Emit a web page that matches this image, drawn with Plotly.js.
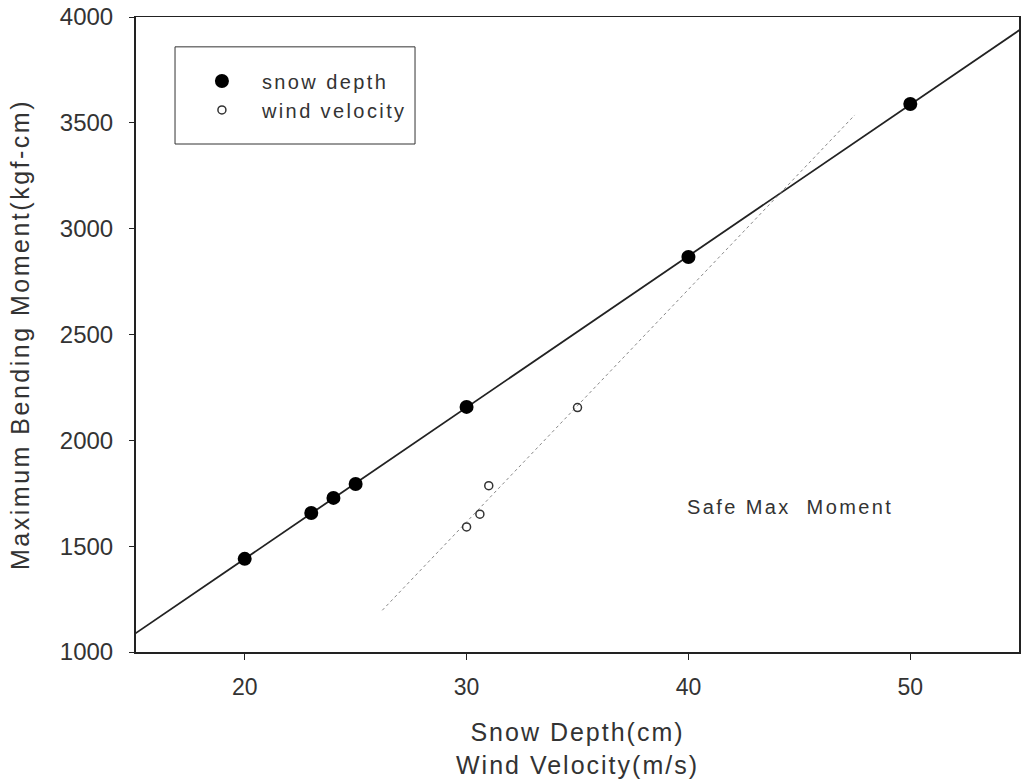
<!DOCTYPE html>
<html>
<head>
<meta charset="utf-8">
<script src="https://cdn.plot.ly/plotly-3.0.1.min.js"></script>
<style>
html,body{margin:0;padding:0;background:#fff;}
#chart{width:1021px;height:779px;}
text.xtitle { letter-spacing: 2px; }
text.ytitle { letter-spacing: 2.5px; }
text.legendtext, text.annotation-text { letter-spacing: 2.4px; }
</style>
</head>
<body>
<div id="chart"></div>
<script>
// Data
const snowDepth = [20, 23, 24, 25, 30, 40, 50];
const snowMoment = [1440, 1657, 1728, 1794, 2158, 2866, 3589];
const windVelocity = [30, 30.6, 31, 35];
const windMoment = [1591, 1651, 1786, 2155];
const snowFitRange = [15, 55];
const windFitRange = [26.2, 47.5];
const xTicks = [20, 30, 40, 50];
const yTicks = [1000, 1500, 2000, 2500, 3000, 3500, 4000];

function linfit(xs, ys) {
  const n = xs.length;
  const mx = xs.reduce((a, b) => a + b, 0) / n;
  const my = ys.reduce((a, b) => a + b, 0) / n;
  let sxx = 0, sxy = 0;
  for (let i = 0; i < n; i++) { sxx += (xs[i] - mx) ** 2; sxy += (xs[i] - mx) * (ys[i] - my); }
  const m = sxy / sxx;
  return { m: m, b: my - m * mx };
}
const sf = linfit(snowDepth, snowMoment);
const wf = linfit(windVelocity, windMoment);

const traces = [
  {
    x: snowFitRange, y: snowFitRange.map(v => sf.m * v + sf.b),
    mode: 'lines', line: { color: '#222', width: 1.8 }, showlegend: false, hoverinfo: 'skip'
  },
  {
    x: windFitRange, y: windFitRange.map(v => wf.m * v + wf.b),
    mode: 'lines', line: { color: '#888', width: 1, dash: 'dot' }, showlegend: false, hoverinfo: 'skip'
  },
  {
    x: snowDepth, y: snowMoment, name: 'snow depth', mode: 'markers',
    marker: { symbol: 'circle', size: 14, color: '#000' }
  },
  {
    x: windVelocity, y: windMoment, name: 'wind velocity', mode: 'markers',
    marker: { symbol: 'circle-open', size: 8, color: '#333', line: { width: 1.5, color: '#333' } }
  }
];

const fam = 'Liberation Sans, Arial, sans-serif';
const txt = '#333';

const layout = {
  width: 1021, height: 779,
  margin: { l: 136, r: 2, t: 17, b: 127 },
  paper_bgcolor: '#fff', plot_bgcolor: '#fff',
  font: { family: fam, color: txt },
  showlegend: true,
  legend: {
    x: 0.052, y: 0.93, xanchor: 'left', yanchor: 'top',
    borderwidth: 0, bgcolor: 'rgba(0,0,0,0)',
    font: { family: fam, size: 20, color: txt },
    itemwidth: 70
  },
  shapes: [
    { type: 'rect', xref: 'paper', yref: 'paper', x0: 0.0442, x1: 0.316, y0: 0.800, y1: 0.953,
      line: { color: '#333', width: 1 }, fillcolor: 'rgba(0,0,0,0)' }
  ],
  xaxis: {
    range: [15.1, 54.9],
    tickvals: xTicks, ticktext: xTicks.map(String),
    ticks: 'outside', ticklen: 6, tickcolor: '#222', tickwidth: 1,
    ticklabelstandoff: 8,
    showline: true, linecolor: '#222', linewidth: 1.5, mirror: true,
    showgrid: false, zeroline: false,
    tickfont: { size: 23, color: txt, family: fam },
    title: { text: 'Snow Depth(cm)<br>Wind Velocity(m/s)', font: { size: 25, color: txt, family: fam }, standoff: 32 }
  },
  yaxis: {
    range: [1000, 4000],
    tickvals: yTicks, ticktext: yTicks.map(String),
    ticks: 'outside', ticklen: 5, tickcolor: '#222', tickwidth: 1,
    ticklabelstandoff: 11,
    showline: true, linecolor: '#222', linewidth: 2, mirror: true,
    showgrid: false, zeroline: false,
    tickfont: { size: 24, color: txt, family: fam },
    title: { text: 'Maximum Bending Moment(kgf-cm)', font: { size: 25, color: txt, family: fam }, standoff: 23 }
  },
  annotations: [
    { x: 44.6, y: 1685, xref: 'x', yref: 'y', text: 'Safe Max  Moment', showarrow: false,
      font: { size: 20, color: txt, family: fam } }
  ]
};

Plotly.newPlot('chart', traces, layout, { displayModeBar: false, staticPlot: true });
</script>
</body>
</html>
